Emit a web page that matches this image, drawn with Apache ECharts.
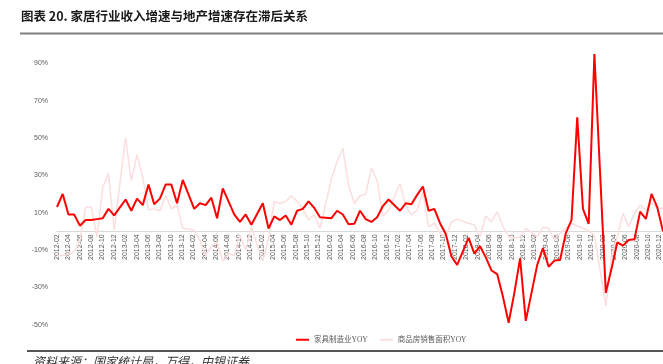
<!DOCTYPE html>
<html>
<head>
<meta charset="utf-8">
<script src="https://cdn.jsdelivr.net/npm/echarts@6/dist/echarts.min.js"></script>
<style>
html,body{margin:0;padding:0;background:#fff;}
#c{width:663px;height:364px;}
</style>
</head>
<body>
<div id="c"></div>
<script>
const categories = [
 '2012-02','2012-03','2012-04','2012-05','2012-06','2012-07','2012-08','2012-09','2012-10','2012-11','2012-12',
 '2013-01','2013-02','2013-03','2013-04','2013-05','2013-06','2013-07','2013-08','2013-09','2013-10','2013-11','2013-12',
 '2014-01','2014-02','2014-03','2014-04','2014-05','2014-06','2014-07','2014-08','2014-09','2014-10','2014-11','2014-12',
 '2015-01','2015-02','2015-03','2015-04','2015-05','2015-06','2015-07','2015-08','2015-09','2015-10','2015-11','2015-12',
 '2016-01','2016-02','2016-03','2016-04','2016-05','2016-06','2016-07','2016-08','2016-09','2016-10','2016-11','2016-12',
 '2017-01','2017-02','2017-03','2017-04','2017-05','2017-06','2017-07','2017-08','2017-09','2017-10','2017-11','2017-12',
 '2018-01','2018-02','2018-03','2018-04','2018-05','2018-06','2018-07','2018-08','2018-09','2018-10','2018-11','2018-12',
 '2019-01','2019-02','2019-03','2019-04','2019-05','2019-06','2019-07','2019-08','2019-09','2019-10','2019-11','2019-12',
 '2020-01','2020-02','2020-03','2020-04','2020-05','2020-06','2020-07','2020-08','2020-09','2020-10','2020-11','2020-12'
];

// 家具制造业YOY (%)
const furniture = [
 13, 20, 9, 9, 3, 6, 6, 6.5, 7, 12, 8.5,
 null, 17, 11, 17.5, 14, 25, 14.5, 17.5, 25, 25, 15, 27.5,
 null, 12, 15, 14, 18, 7, 23, 16, 9, 5, 9, 3.5,
 null, 15, 1.5, 8, 6, 8.5, 3.5, 11, 12, 16, 12.5, 7.5,
 null, 7, 11, 9, 3.7, 4, 11, 6.5, 5, 7.5, 13.5, 17,
 null, 11, 15, 14.5, 19.5, 24, 11, 12, 4.3, -1.5, -13.5, -18,
 null, -3.5, -12, -8, -14, -21, -23, -35, -49, -33, -14.5, -48,
 null, -18, -9, -19, -15.7, -15.4, -1, 6, 61, 12, 4, 95,
 null, -33, -20, -6, -7.7, -4.7, -4.3, 10.5, 6.6, 20, 12.8, 0
];

// 商品房销售面积YOY (%)
const housing = [
 -13, -13, -12.5, -11, -5, 13, 13, -3, 23.5, 31, 0.7,
 null, 50, 27, 41, 29, 11.5, 12, 11, 19, 12, 14, 1.6,
 null, 0.7, -5, -13, -8, -6, -16, -12, -13, -2, -10, 2,
 null, -16, -4, 16, 15, 16, 19, 16, 12, 6, 9, 1.6,
 null, 28, 37.5, 44.5, 24.5, 15, 19, 20, 34, 27, 8, 11.4,
 null, 25.5, 13.6, 8.7, 11.4, 21, 2.5, 4.3, -1, -3, 5, 6.4,
 null, 4.3, 3.4, -2.9, 8.2, 5, 10.5, 2.5, -2.9, -3.8, -2.9, 1.6,
 null, -3, 2.1, 1.6, -4.7, -1, 1.6, 4.3, 2.8, 1.6, 0.3, -2,
 null, -40, -13.6, -3, 9.6, 2.5, 9.6, 14, 11.4, 15, 12.3, 12.3
];

const seriesNames = ['家具制造业YOY', '商品房销售面积YOY'];
const titleText = '图表 20. 家居行业收入增速与地产增速存在滞后关系';
const sourceText = '资料来源：国家统计局，万得，中银证券';

const yMin = -50, yMax = 100, yStep = 20;
const gridTop = 44.6, gridHeight = 280;
const zeroY = gridTop + gridHeight * (yMax - 0) / (yMax - yMin);

const chart = echarts.init(document.getElementById('c'), null, {renderer: 'canvas'});
const axisFont = 'Liberation Sans, Arial, sans-serif';
chart.setOption({
  animation: false,
  backgroundColor: '#fff',
  grid: [
    {left: 57, right: 0, top: gridTop, height: gridHeight, containLabel: false},
    {left: 57, right: 0, top: gridTop, height: zeroY - gridTop, containLabel: false}
  ],
  legend: {
    data: seriesNames,
    left: 291, top: 331,
    icon: 'rect', itemWidth: 13, itemHeight: 2, itemGap: 12,
    textStyle: {fontSize: 7.5, color: '#595959', fontFamily: 'Liberation Serif, Noto Sans CJK SC'}
  },
  xAxis: [
    {
      type: 'category', gridIndex: 0,
      data: categories,
      boundaryGap: false,
      axisLine: {onZero: true, lineStyle: {color: '#d9d9d9', width: 1}},
      axisTick: {show: false},
      axisLabel: {show: false},
      splitLine: {show: false}
    },
    {
      type: 'category', gridIndex: 1,
      data: categories,
      boundaryGap: false,
      axisLine: {show: false},
      axisTick: {show: false},
      axisLabel: {interval: 1, rotate: 90, fontSize: 7, color: '#595959', margin: 3, fontFamily: axisFont},
      splitLine: {show: false}
    }
  ],
  yAxis: [
    {
      type: 'value', gridIndex: 0,
      min: yMin, max: yMax, interval: yStep,
      axisLine: {show: false},
      axisTick: {show: false},
      splitLine: {show: false},
      axisLabel: {formatter: '{value}%', fontSize: 7, color: '#595959', margin: 9, showMaxLabel: false, fontFamily: axisFont}
    },
    {
      type: 'value', gridIndex: 1, min: 0, max: 1,
      axisLine: {show: false}, axisTick: {show: false}, splitLine: {show: false}, axisLabel: {show: false}
    }
  ],
  series: [
    {name: seriesNames[0], type: 'line', data: furniture, symbol: 'none', connectNulls: true, z: 3,
     lineStyle: {color: '#ff0000', width: 2}, itemStyle: {color: '#ff0000'}},
    {name: seriesNames[1], type: 'line', data: housing, symbol: 'none', connectNulls: true, z: 2,
     lineStyle: {color: '#fbdede', width: 1.5}, itemStyle: {color: '#fbdede'}}
  ],
  graphic: [
    {type: 'text', left: 21, top: 10, style: {text: titleText, font: 'bold 12.5px "Noto Sans CJK SC"', fill: '#1a1a1a'}},
    {type: 'rect', shape: {x: 20, y: 32.5, width: 643, height: 2}, style: {fill: '#808080'}},
    {type: 'rect', shape: {x: 27, y: 350, width: 636, height: 2}, style: {fill: '#555555'}},
    {type: 'text', left: 33, top: 355, style: {text: sourceText, font: 'italic 12px "Noto Sans CJK SC"', fill: '#333333'}}
  ]
});
</script>
</body>
</html>
